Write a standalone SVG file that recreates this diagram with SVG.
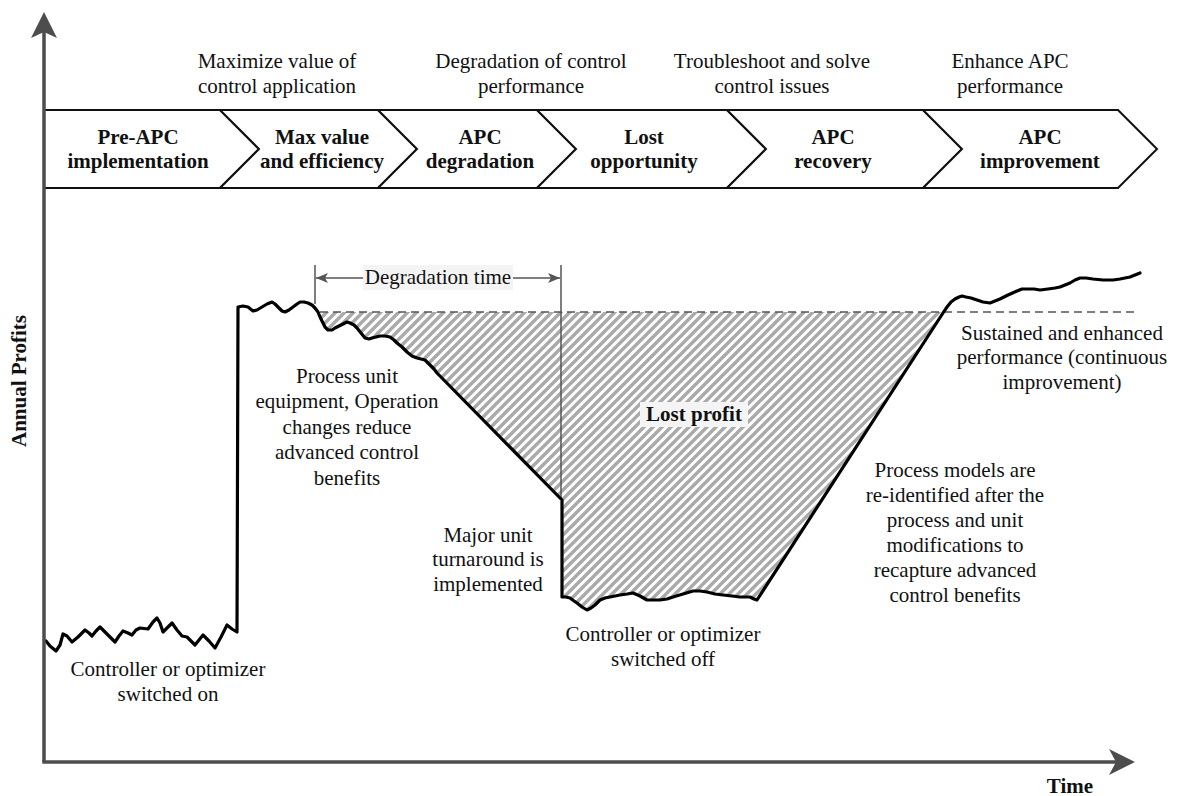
<svg xmlns="http://www.w3.org/2000/svg" width="1177" height="796" viewBox="0 0 1177 796">
  <style>
    text { font-family: "Liberation Serif", "Times New Roman", serif; font-size: 21px; fill: #111; }
    .b { font-weight: bold; }
    .mid { text-anchor: middle; }
    .chev { fill: #fff; stroke: #111; stroke-width: 2; stroke-linejoin: miter; }
    .axis { stroke: #4d4d4d; stroke-width: 3.5; fill: none; }
    .axhead { fill: #4d4d4d; }
    .guide { stroke: #555; stroke-width: 1.5; fill: none; }
    .profit { stroke: #000; stroke-width: 3.2; fill: none; stroke-linejoin: round; stroke-linecap: round; }
    .dash { stroke: #555; stroke-width: 1.3; stroke-dasharray: 8 5; fill: none; }
    .tag { fill: #f4f4f4; }
  </style>
  <defs>
    <pattern id="hatch" patternUnits="userSpaceOnUse" width="9" height="9">
      <rect width="9" height="9" fill="#fff"/>
      <path d="M-2,2 L2,-2 M0,9 L9,0 M7,11 L11,7" stroke="#aaa" stroke-width="3.4"/>
    </pattern>
    <marker id="tip" viewBox="0 0 12 10" refX="12" refY="5" markerWidth="12" markerHeight="10" markerUnits="userSpaceOnUse" orient="auto-start-reverse">
      <path d="M0,0 L12,5 L0,10 L3,5 Z" fill="#555"/>
    </marker>
  </defs>

  <rect width="1177" height="796" fill="#fff"/>

  <!-- lifecycle phases -->
  <g id="phase-pre-apc">
    <polygon class="chev" points="44,110 220,110 259,149 220,188 44,188"/>
    <text class="b mid" x="138" y="144">Pre-APC</text>
    <text class="b mid" x="138" y="168">implementation</text>
  </g>
  <g id="phase-max-value">
    <polygon class="chev" points="220,110 378,110 417,149 378,188 220,188 259,149"/>
    <text class="b mid" x="322" y="144">Max value</text>
    <text class="b mid" x="322" y="168">and efficiency</text>
  </g>
  <g id="phase-degradation">
    <polygon class="chev" points="378,110 537,110 576,149 537,188 378,188 417,149"/>
    <text class="b mid" x="480" y="144">APC</text>
    <text class="b mid" x="480" y="168">degradation</text>
  </g>
  <g id="phase-lost-opportunity">
    <polygon class="chev" points="537,110 727,110 766,149 727,188 537,188 576,149"/>
    <text class="b mid" x="644" y="144">Lost</text>
    <text class="b mid" x="644" y="168">opportunity</text>
  </g>
  <g id="phase-recovery">
    <polygon class="chev" points="727,110 923,110 962,149 923,188 727,188 766,149"/>
    <text class="b mid" x="833" y="144">APC</text>
    <text class="b mid" x="833" y="168">recovery</text>
  </g>
  <g id="phase-improvement">
    <polygon class="chev" points="923,110 1118,110 1157,149 1118,188 923,188 962,149"/>
    <text class="b mid" x="1040" y="144">APC</text>
    <text class="b mid" x="1040" y="168">improvement</text>
  </g>

  <!-- goals above the phases -->
  <g id="goals">
    <text class="mid" x="277" y="68">Maximize value of</text>
    <text class="mid" x="277" y="93">control application</text>
    <text class="mid" x="531" y="68">Degradation of control</text>
    <text class="mid" x="531" y="93">performance</text>
    <text class="mid" x="772" y="68">Troubleshoot and solve</text>
    <text class="mid" x="772" y="93">control issues</text>
    <text class="mid" x="1010" y="68">Enhance APC</text>
    <text class="mid" x="1010" y="93">performance</text>
  </g>

  <!-- lost profit area -->
  <g id="lost-profit">
    <path fill="url(#hatch)" d="M317,312 L320,317 L323,323 L325,327 L328,330 L332,330 L335,328 L339,326 L343,324 L347,322 L350,323 L354,325 L357,328 L361,333 L365,338 L369,339 L372,338 L376,337 L380,336 L385,336 L390,337 L394,340 L397,343 L402,347 L407,352 L412,356 L417,358 L421,359 L425,360 L430,365 L434,369 L437,373 L562,500 L562,597 L566,597 L570,598 L574,601 L577,603 L582,607 L587,610 L591,608 L595,605 L600,600 L605,598 L610,597 L615,596 L620,595 L627,594 L633,593 L640,596 L647,600 L653,600 L660,600 L667,599 L673,597 L683,594 L693,591 L700,591 L707,592 L715,594 L723,595 L732,596 L740,597 L750,597 L754,599 L757,600 L943,313 L943,312 Z"/>
    <rect class="tag" x="640" y="402" width="108" height="25"/>
    <text class="b mid" x="694" y="421">Lost profit</text>
  </g>

  <!-- baseline of sustained performance -->
  <line class="dash" x1="320" y1="312" x2="1136" y2="312"/>

  <!-- degradation time span -->
  <g id="degradation-time">
    <line class="guide" x1="315" y1="265" x2="315" y2="304"/>
    <line class="guide" x1="561" y1="265" x2="561" y2="500"/>
    <line class="guide" x1="316" y1="278" x2="560" y2="278" marker-start="url(#tip)" marker-end="url(#tip)"/>
    <rect class="tag" x="363" y="265" width="150" height="25"/>
    <text class="mid" x="438" y="284">Degradation time</text>
  </g>

  <!-- annual profit curve -->
  <g id="profit-curve">
    <path class="profit" d="M46,641 L50,646 L56,651 L60,645 L63,634 L67,636 L72,642 L78,637 L85,630 L89,633 L92,636 L96,631 L100,627 L107,634 L115,642 L119,636 L123,631 L128,633 L132,635 L136,630 L140,628 L148,629 L153,622 L157,618 L160,623 L163,632 L167,628 L172,623 L177,630 L182,636 L187,637 L191,641 L195,645 L199,640 L203,635 L209,641 L215,648 L221,637 L227,625 L232,629 L237,632 L238,307 L243,306 L248,307 L253,311 L257,310 L262,307 L267,304 L272,302 L275,304 L278,307 L282,311 L285,312 L289,310 L293,307 L297,304 L300,302 L304,302 L308,303 L312,305 L315,308 L318,312 L320,317 L323,323 L325,327 L328,330 L332,330 L335,328 L339,326 L343,324 L347,322 L350,323 L354,325 L357,328 L361,333 L365,338 L369,339 L372,338 L376,337 L380,336 L385,336 L390,337 L394,340 L397,343 L402,347 L407,352 L412,356 L417,358 L421,359 L425,360 L430,365 L434,369 L437,373 L562,500 L562,597 L566,597 L570,598 L574,601 L577,603 L582,607 L587,610 L591,608 L595,605 L600,600 L605,598 L610,597 L615,596 L620,595 L627,594 L633,593 L640,596 L647,600 L653,600 L660,600 L667,599 L673,597 L683,594 L693,591 L700,591 L707,592 L715,594 L723,595 L732,596 L740,597 L750,597 L754,599 L757,600 L943,313 L947,307 L951,302 L955,299 L959,297 L962,296 L966,297 L971,298 L977,300 L983,302 L990,303 L995,301 L1000,299 L1008,295 L1017,291 L1022,289 L1027,289 L1034,289 L1040,290 L1048,289 L1055,288 L1060,287 L1065,285 L1070,283 L1075,280 L1080,278 L1086,278 L1093,279 L1103,280 L1113,280 L1120,279 L1130,277 L1135,275 L1140,273"/>
  </g>

  <!-- event notes -->
  <g id="note-switched-on">
    <text class="mid" x="168" y="676">Controller or optimizer</text>
    <text class="mid" x="168" y="701">switched on</text>
  </g>
  <g id="note-equipment-changes">
    <text class="mid" x="347" y="383">Process unit</text>
    <text class="mid" x="347" y="408">equipment, Operation</text>
    <text class="mid" x="347" y="434">changes reduce</text>
    <text class="mid" x="347" y="459">advanced control</text>
    <text class="mid" x="347" y="485">benefits</text>
  </g>
  <g id="note-turnaround">
    <text class="mid" x="488" y="542">Major unit</text>
    <text class="mid" x="488" y="566">turnaround is</text>
    <text class="mid" x="488" y="591">implemented</text>
  </g>
  <g id="note-switched-off">
    <text class="mid" x="663" y="641">Controller or optimizer</text>
    <text class="mid" x="663" y="666">switched off</text>
  </g>
  <g id="note-reidentified">
    <text class="mid" x="955" y="477">Process models are</text>
    <text class="mid" x="955" y="502">re-identified after the</text>
    <text class="mid" x="955" y="527">process and unit</text>
    <text class="mid" x="955" y="552">modifications to</text>
    <text class="mid" x="955" y="577">recapture advanced</text>
    <text class="mid" x="955" y="602">control benefits</text>
  </g>
  <g id="note-sustained">
    <text class="mid" x="1062" y="340">Sustained and enhanced</text>
    <text class="mid" x="1062" y="364">performance (continuous</text>
    <text class="mid" x="1062" y="389">improvement)</text>
  </g>

  <!-- axes -->
  <g id="axes">
    <line class="axis" x1="44" y1="30" x2="44" y2="762"/>
    <line class="axis" x1="42.3" y1="762" x2="1118" y2="762"/>
    <path class="axhead" d="M44,12 L57,38 L44,32 L31,38 Z"/>
    <path class="axhead" d="M1135,762 L1109,749 L1116,762 L1109,775 Z"/>
    <text class="b" transform="translate(26,381) rotate(-90)" text-anchor="middle">Annual Profits</text>
    <text class="b mid" x="1070" y="793">Time</text>
  </g>
</svg>
